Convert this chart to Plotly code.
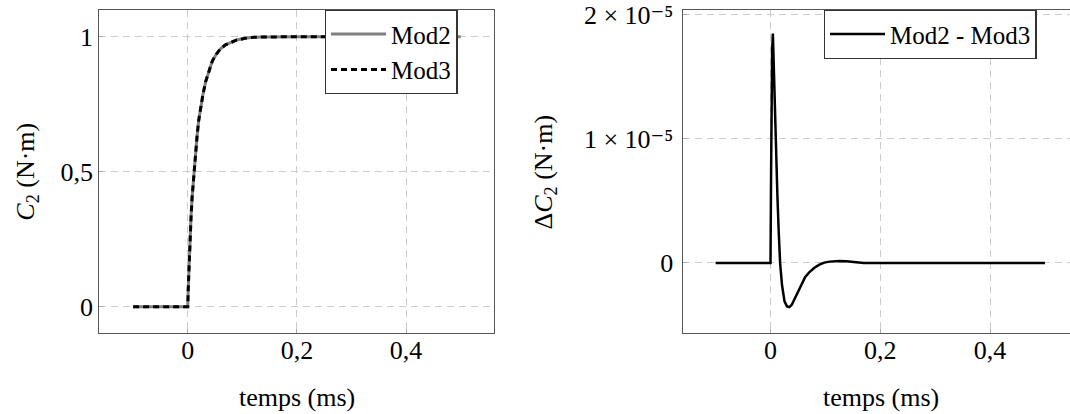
import plotly.graph_objects as go

# ---- data ----
t_c2 = [-0.1, 0.0, 0.001, 0.002, 0.003, 0.004, 0.006, 0.008, 0.011, 0.013, 0.015,
        0.017, 0.020, 0.024, 0.028, 0.033, 0.0385, 0.045, 0.0525, 0.060, 0.069,
        0.080, 0.090, 0.105, 0.121, 0.140, 0.160, 0.200, 0.300, 0.400, 0.500]
mod2 = [0.0, 0.0, 0.07, 0.135, 0.195, 0.25, 0.33, 0.405, 0.49, 0.54, 0.585,
        0.63, 0.689, 0.745, 0.788, 0.835, 0.874, 0.91, 0.936, 0.955, 0.970,
        0.981, 0.988, 0.994, 0.998, 0.999, 1.0, 1.0, 1.0, 1.0, 1.0]
mod3 = [0.0, 0.0, 0.07, 0.135, 0.195, 0.25, 0.33, 0.405, 0.49, 0.54, 0.585,
        0.63, 0.689, 0.745, 0.788, 0.835, 0.874, 0.91, 0.936, 0.955, 0.970,
        0.981, 0.988, 0.994, 0.998, 0.999, 1.0, 1.0, 1.0, 1.0, 1.0]

t_diff = [-0.1, 0.0, 0.001, 0.002, 0.003, 0.0043, 0.006, 0.008, 0.0103, 0.0125,
          0.015, 0.0175, 0.021, 0.0255, 0.030, 0.0346, 0.039, 0.0438, 0.050,
          0.056, 0.063, 0.071, 0.080, 0.089, 0.098, 0.1076, 0.117, 0.126, 0.138,
          0.150, 0.160, 0.170, 0.200, 0.500]
diff = [0.0, 0.0, 0.70e-5, 1.35e-5, 1.72e-5, 1.85e-5, 1.55e-5, 1.25e-5, 0.88e-5,
        0.55e-5, 0.25e-5, 0.0, -0.18e-5, -0.31e-5, -0.35e-5, -0.355e-5, -0.335e-5,
        -0.29e-5, -0.23e-5, -0.167e-5, -0.115e-5, -0.073e-5, -0.038e-5, -0.013e-5,
        0.003e-5, 0.011e-5, 0.015e-5, 0.016e-5, 0.013e-5, 0.008e-5, 0.003e-5,
        0.0, 0.0, 0.0]

x_tickvals = [0, 0.2, 0.4]
x_ticktext = ["0", "0,2", "0,4"]
y1_tickvals = [0, 0.5, 1]
y1_ticktext = ["0", "0,5", "1"]
y2_tickvals = [0, 1e-5, 2e-5]
y2_ticktext = ["0", "1 × 10⁻⁵", "2 × 10⁻⁵"]

FONT = "Liberation Serif, DejaVu Serif, serif"
FS = 26
LFS = 25
W, H = 1070, 414

fig = go.Figure()
fig.add_trace(go.Scatter(x=t_c2, y=mod2, mode="lines", name="Mod2",
                         line=dict(color="#808080", width=3),
                         xaxis="x", yaxis="y", legend="legend"))
fig.add_trace(go.Scatter(x=t_c2, y=mod3, mode="lines", name="Mod3",
                         line=dict(color="black", width=3, dash="6px,4px"),
                         xaxis="x", yaxis="y", legend="legend"))
fig.add_trace(go.Scatter(x=t_diff, y=diff, mode="lines", name="Mod2 - Mod3",
                         line=dict(color="black", width=2.5),
                         xaxis="x2", yaxis="y2", legend="legend2"))

ytop = 1 - 10 / H
ybot = 1 - 333.3 / H

grid = dict(showgrid=True, gridcolor="#cccccc", gridwidth=1, griddash="7px,5px",
            zeroline=False, showline=True, linecolor="#555555", linewidth=1.3,
            ticks="inside", ticklen=4, tickcolor="#aaaaaa", tickwidth=1,
            ticklabeloverflow="allow",
            tickfont=dict(family=FONT, size=FS, color="black"), automargin=False)

fig.update_layout(
    width=W, height=H,
    margin=dict(l=0, r=0, t=0, b=0),
    paper_bgcolor="white", plot_bgcolor="white",
    font=dict(family=FONT, size=FS, color="black"),
    xaxis=dict(domain=[99.3 / W, 494 / W], range=[-0.162, 0.561],
               tickvals=x_tickvals, ticktext=x_ticktext, mirror=True,
               anchor="y", ticklabelstandoff=-7, **grid),
    yaxis=dict(domain=[ybot, ytop], range=[-0.0985, 1.099],
               tickvals=y1_tickvals, ticktext=y1_ticktext, mirror=True,
               anchor="x", ticklabelstandoff=0, **grid),
    xaxis2=dict(domain=[682.7 / W, 1.0], range=[-0.16, 0.5457],
                tickvals=x_tickvals, ticktext=x_ticktext, mirror=True,
                anchor="y2", ticklabelstandoff=-7, **grid),
    yaxis2=dict(domain=[ybot, ytop], range=[-0.567e-5, 2.04e-5],
                tickvals=y2_tickvals, ticktext=y2_ticktext, mirror=False,
                anchor="x2", ticklabelstandoff=3, **grid),
    legend=dict(x=457.7 / W, y=ytop, xanchor="right", yanchor="top",
                bgcolor="white", bordercolor="#333333", borderwidth=1.3,
                font=dict(family=FONT, size=LFS, color="black"),
                itemwidth=55, tracegroupgap=0),
    legend2=dict(x=1036.7 / W, y=ytop, xanchor="right", yanchor="top",
                 bgcolor="white", bordercolor="#333333", borderwidth=1.3,
                 font=dict(family=FONT, size=LFS, color="black"),
                 itemwidth=55),
    showlegend=True,
)

annots = [
    dict(text="temps (ms)", x=296.5 / W, y=1 - 397 / H),
    dict(text="temps (ms)", x=880.5 / W, y=1 - 397 / H),
    dict(text="<i>C</i><sub>2</sub> (N·m)", x=26.7 / W, y=1 - 172 / H, textangle=-90),
    dict(text="Δ<i>C</i><sub>2</sub> (N·m)", x=544 / W, y=1 - 172.5 / H, textangle=-90),
]
for a in annots:
    fig.add_annotation(xref="paper", yref="paper", showarrow=False,
                       xanchor="center", yanchor="middle",
                       font=dict(family=FONT, size=FS, color="black"), **a)

fig.write_html("out.html")
